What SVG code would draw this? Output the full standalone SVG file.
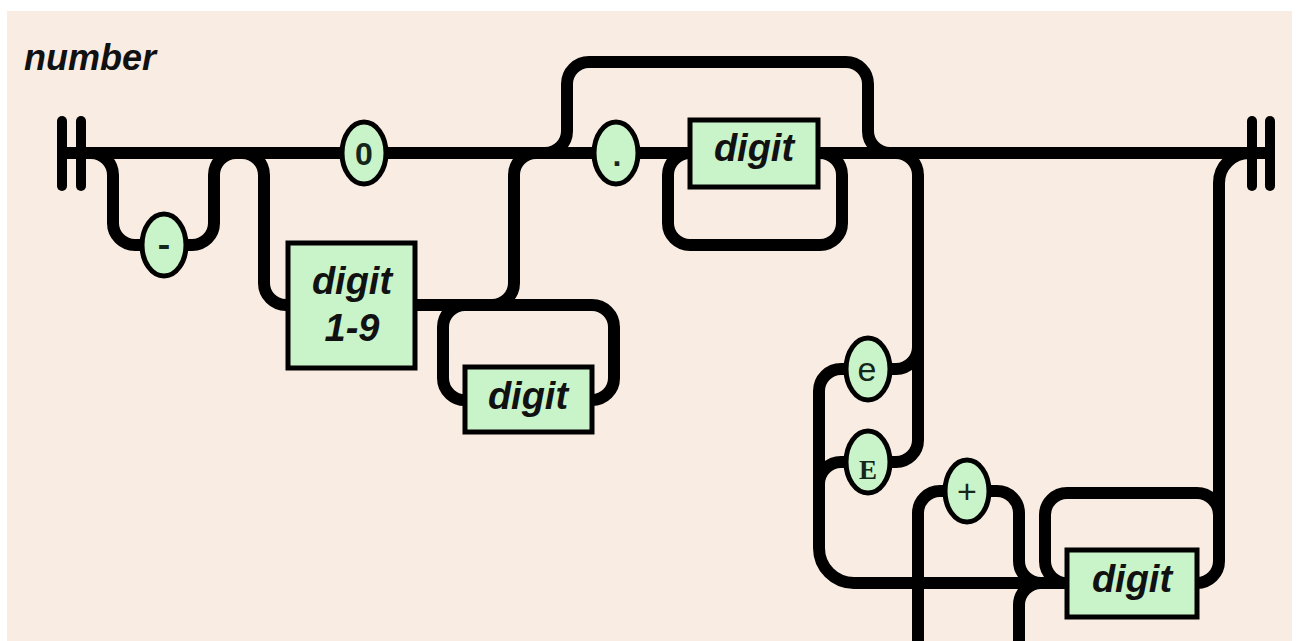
<svg xmlns="http://www.w3.org/2000/svg" width="1299" height="641" viewBox="0 0 1299 641">
  <style>
    .rail { fill: none; stroke: #000; stroke-width: 12; }
    .bar { stroke: #000; stroke-width: 10; stroke-linecap: round; }
    .term { fill: #C9F3C9; stroke: #000; stroke-width: 5; }
    .nt { fill: #C9F3C9; stroke: #000; stroke-width: 5; }
    .ntx { font-family: "Liberation Sans", Arial, sans-serif; font-weight: bold; font-style: italic; font-size: 38px; fill: #111; text-anchor: middle; }
    .tx { font-family: "Liberation Sans", Arial, sans-serif; font-weight: bold; font-size: 32px; fill: #14261a; text-anchor: middle; }
    .title { font-family: "Liberation Sans", Arial, sans-serif; font-weight: bold; font-style: italic; font-size: 36px; fill: #111; }
  </style>

  <!-- page -->
  <rect x="0" y="0" width="1299" height="641" fill="#fff"/>
  <rect x="7" y="11" width="1285" height="630" fill="#F9EDE3"/>

  <text class="title" x="24" y="70">number</text>

  <!-- rails -->
  <g id="connectors">
    <path class="rail" d="M62,153 H1270"/>
    <!-- optional minus -->
    <path class="rail" d="M91,153 A22,22 0 0 1 113,175 V223 A22,22 0 0 0 135,245 H146"/>
    <path class="rail" d="M182,245 H192 A22,22 0 0 0 214,223 V175 A22,22 0 0 1 236,153"/>
    <!-- digit 1-9 branch -->
    <path class="rail" d="M242,153 A22,22 0 0 1 264,175 V283 A22,22 0 0 0 286,305 H290"/>
    <path class="rail" d="M413,305 H592 A22,22 0 0 1 614,327 V378 A22,22 0 0 1 592,400"/>
    <path class="rail" d="M467,400 A22,22 0 0 1 443,378 V327 A22,22 0 0 1 465,305"/>
    <path class="rail" d="M492,305 A22,22 0 0 0 514,283 V175 A22,22 0 0 1 536,153"/>
    <!-- fraction bypass -->
    <path class="rail" d="M545,153 A22,22 0 0 0 567,131 V84 A22,22 0 0 1 589,62 H846 A22,22 0 0 1 868,84 V131 A22,22 0 0 0 890,153"/>
    <!-- fraction digit loop -->
    <path class="rail" d="M816,153 H820 A22,22 0 0 1 842,175 V223 A22,22 0 0 1 820,245 H690 A22,22 0 0 1 668,223 V175 A22,22 0 0 1 690,153"/>
    <!-- exponent: e / E -->
    <path class="rail" d="M896,153 A22,22 0 0 1 918,175 V440 A22,22 0 0 1 896,462 H886"/>
    <path class="rail" d="M886,369 H896 A22,22 0 0 0 918,347"/>
    <path class="rail" d="M850,369 H841 A22,22 0 0 0 819,391 V548 A35,35 0 0 0 854,583 H1069"/>
    <path class="rail" d="M850,462 H841 A22,22 0 0 0 819,484"/>
    <!-- sign -->
    <path class="rail" d="M918,645 V513 A22,22 0 0 1 940,491 H950"/>
    <path class="rail" d="M985,491 H997 A22,22 0 0 1 1019,513 V561 A22,22 0 0 0 1041,583"/>
    <path class="rail" d="M1019,645 V605 A22,22 0 0 1 1041,583"/>
    <!-- exponent digit loop -->
    <path class="rail" d="M1069,583 A22,22 0 0 1 1045,561 V515 A22,22 0 0 1 1067,493 H1197 A22,22 0 0 1 1219,515"/>
    <path class="rail" d="M1195,583 H1197 A22,22 0 0 0 1219,561 V183 A30,30 0 0 1 1249,153"/>
  </g>

  <!-- end bars -->
  <g id="start">
    <line class="bar" x1="62" y1="121" x2="62" y2="186"/>
    <line class="bar" x1="81" y1="121" x2="81" y2="186"/>
  </g>
  <g id="end">
    <line class="bar" x1="1252" y1="121" x2="1252" y2="186"/>
    <line class="bar" x1="1270" y1="121" x2="1270" y2="186"/>
  </g>

  <!-- terminals -->
  <g id="minus">
    <ellipse class="term" cx="164" cy="245" rx="22" ry="31"/>
    <text class="tx" x="164" y="256" style="font-family:'Liberation Mono',monospace;font-size:34px">-</text>
  </g>
  <g id="zero">
    <ellipse class="term" cx="364" cy="153" rx="22" ry="31"/>
    <text class="tx" x="364" y="165">0</text>
  </g>
  <g id="dot">
    <ellipse class="term" cx="616" cy="153" rx="22" ry="31"/>
    <text class="tx" x="617" y="166">.</text>
  </g>
  <g id="e-lower">
    <ellipse class="term" cx="868" cy="369" rx="22" ry="31"/>
    <text class="tx" x="867" y="381" style="font-weight:normal;font-size:34px">e</text>
  </g>
  <g id="e-upper">
    <ellipse class="term" cx="868" cy="462" rx="22" ry="31"/>
    <text class="tx" x="868" y="479" style="font-family:'Liberation Serif',serif;font-size:27px">E</text>
  </g>
  <g id="plus">
    <ellipse class="term" cx="967" cy="491" rx="22" ry="31"/>
    <text class="tx" x="967" y="503" style="font-weight:normal;font-size:34px">+</text>
  </g>

  <!-- non-terminals -->
  <g id="digit19">
    <rect class="nt" x="288" y="243" width="127" height="125"/>
    <text class="ntx" x="352" y="294">digit</text>
    <text class="ntx" x="352" y="341">1-9</text>
  </g>
  <g id="digit-int">
    <rect class="nt" x="465" y="367" width="127" height="65"/>
    <text class="ntx" x="528" y="409">digit</text>
  </g>
  <g id="digit-frac">
    <rect class="nt" x="690" y="120" width="128" height="67"/>
    <text class="ntx" x="754" y="161">digit</text>
  </g>
  <g id="digit-exp">
    <rect class="nt" x="1067" y="550" width="130" height="67"/>
    <text class="ntx" x="1132" y="592">digit</text>
  </g>
</svg>
